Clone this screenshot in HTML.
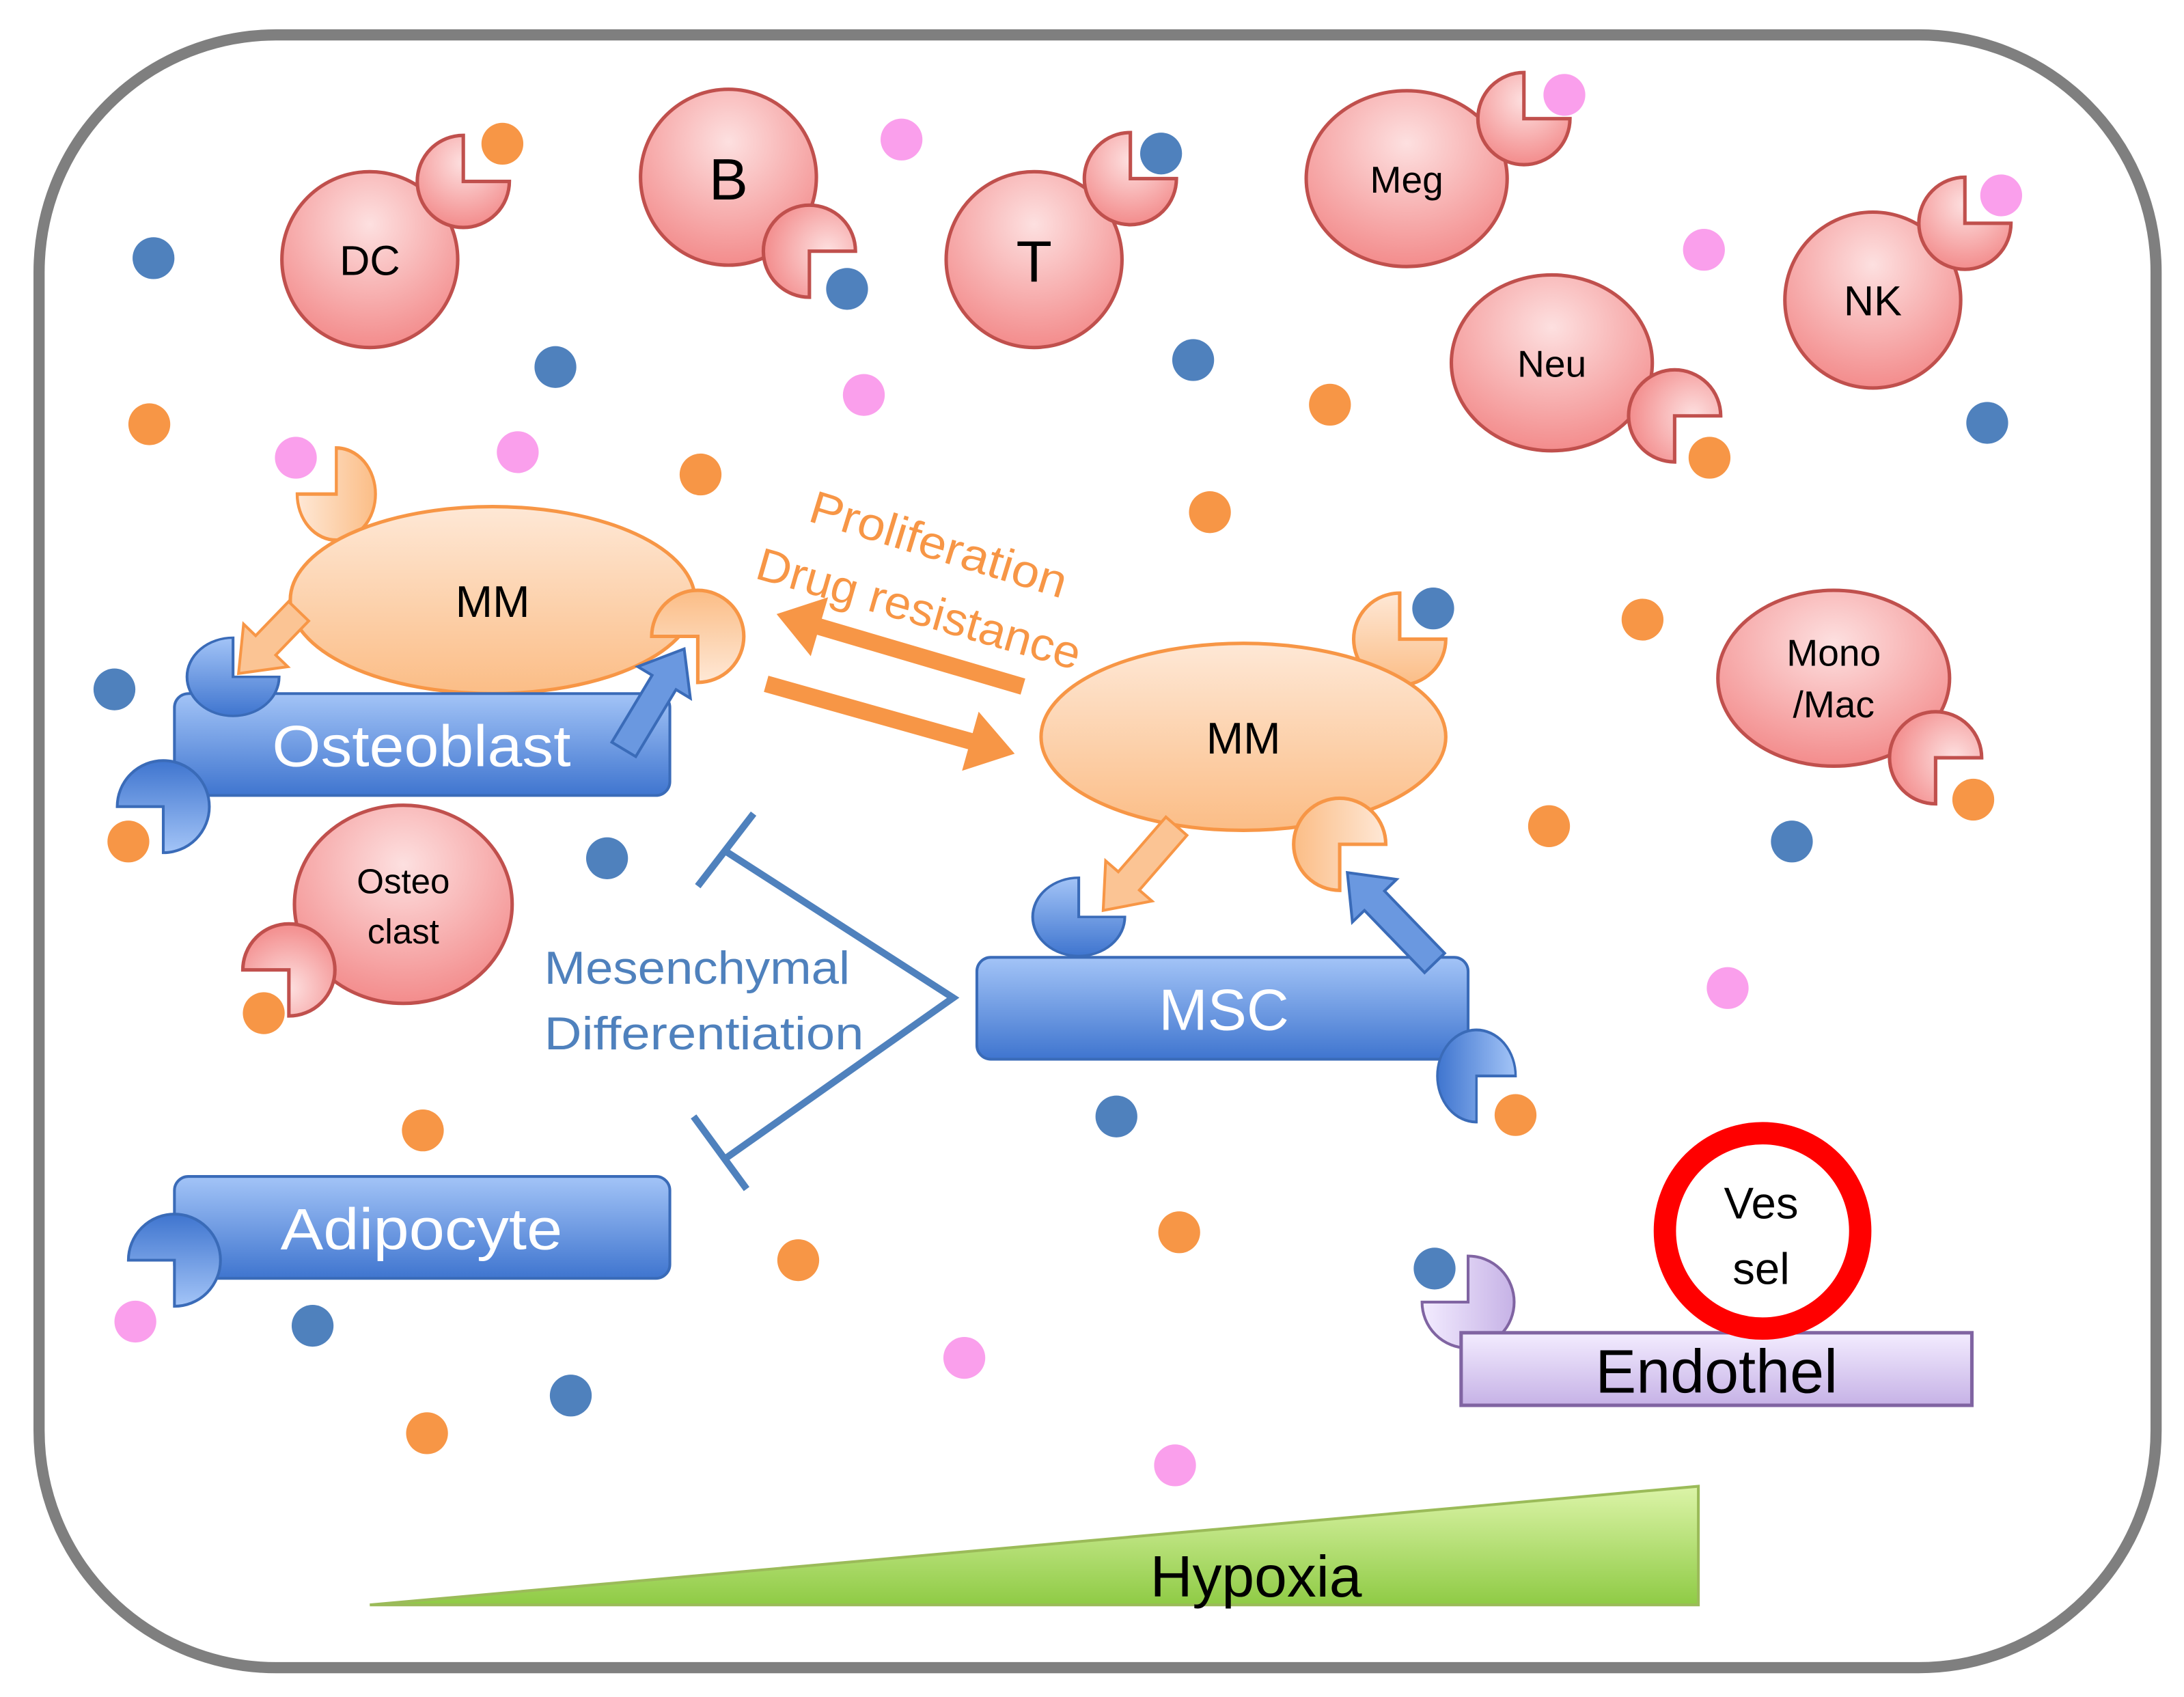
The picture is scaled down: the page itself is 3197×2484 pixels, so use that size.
<!DOCTYPE html>
<html><head><meta charset="utf-8"><style>
html,body{margin:0;padding:0;background:#fff}
svg{display:block}
text{font-family:"Liberation Sans","DejaVu Sans",sans-serif}
</style></head><body>
<svg width="3197" height="2484" viewBox="0 0 1565 1216" preserveAspectRatio="none" xmlns="http://www.w3.org/2000/svg">
<defs>
<radialGradient id="pk" cx="50%" cy="30%" r="70%"><stop offset="0" stop-color="#fde0e0"/><stop offset="1" stop-color="#f38c8c"/></radialGradient>
<linearGradient id="or" x1="0" y1="0" x2="0" y2="1"><stop offset="0" stop-color="#fee8d6"/><stop offset="1" stop-color="#fbbd86"/></linearGradient>
<linearGradient id="bl" x1="0" y1="0" x2="0" y2="1"><stop offset="0" stop-color="#a3c4f7"/><stop offset="1" stop-color="#3f75cf"/></linearGradient>
<linearGradient id="pu" x1="0" y1="0" x2="0" y2="1"><stop offset="0" stop-color="#f3ecff"/><stop offset="1" stop-color="#c6b2e6"/></linearGradient>
<linearGradient id="gr" x1="0" y1="0" x2="0" y2="1"><stop offset="0" stop-color="#dcf4a8"/><stop offset="1" stop-color="#8fcb45"/></linearGradient>
<path id="pac" d="M0,0 L33,0 A33 33 0 1 1 0,-33 Z"/>
<polygon id="barr" points="0,-11 -1,-11 -1,11 0,11"/>
</defs>
<rect x="28" y="25" width="1517" height="1170" rx="170" fill="#fff" stroke="#7f7f7f" stroke-width="8"/>

<!-- pink cells -->
<g stroke="#c0504d" stroke-width="2.5">
<circle cx="265" cy="186" r="63" fill="url(#pk)"/>
<circle cx="522" cy="127" r="63" fill="url(#pk)"/>
<circle cx="741" cy="186" r="63" fill="url(#pk)"/>
<ellipse cx="1008" cy="128" rx="72" ry="63" fill="url(#pk)"/>
<ellipse cx="1112" cy="260" rx="72" ry="63" fill="url(#pk)"/>
<circle cx="1342" cy="215" r="63" fill="url(#pk)"/>
<ellipse cx="1314" cy="486" rx="83" ry="63" fill="url(#pk)"/>
<ellipse cx="289" cy="648" rx="78" ry="71" fill="url(#pk)"/>
<use href="#pac" transform="translate(332,130)" fill="url(#pk)"/>
<use href="#pac" transform="translate(580,180) rotate(90)" fill="url(#pk)"/>
<use href="#pac" transform="translate(810,128)" fill="url(#pk)"/>
<use href="#pac" transform="translate(1092,85)" fill="url(#pk)"/>
<use href="#pac" transform="translate(1200,298) rotate(90)" fill="url(#pk)"/>
<use href="#pac" transform="translate(1408,160)" fill="url(#pk)"/>
<use href="#pac" transform="translate(1387,543) rotate(90)" fill="url(#pk)"/>
<use href="#pac" transform="translate(207,695) rotate(180)" fill="url(#pk)"/>
</g>
<g font-size="30" text-anchor="middle" fill="#000">
<text x="265" y="197">DC</text>
<text x="522" y="143" font-size="42">B</text>
<text x="741" y="202" font-size="42">T</text>
<text x="1008" y="138" font-size="27">Meg</text>
<text x="1112" y="270" font-size="27">Neu</text>
<text x="1342" y="226">NK</text>
<text x="1314" y="477" font-size="27">Mono</text>
<text x="1314" y="514" font-size="27">/Mac</text>
<text x="289" y="640" font-size="25">Osteo</text>
<text x="289" y="676" font-size="25">clast</text>
</g>

<!-- MM cells -->
<g stroke="#f79646" stroke-width="2.5" fill="url(#or)">
<use href="#pac" transform="translate(241,354) rotate(-90) scale(1,0.85)"/>
<ellipse cx="353" cy="430" rx="145" ry="67"/>
<use href="#pac" transform="translate(500,456) rotate(180)"/>
<use href="#pac" transform="translate(1003,458)"/>
<ellipse cx="891" cy="528" rx="145" ry="67"/>
<use href="#pac" transform="translate(960,605) rotate(90)"/>
</g>
<text x="353" y="442" font-size="32" text-anchor="middle">MM</text>
<text x="891" y="540" font-size="32" text-anchor="middle">MM</text>

<!-- blue rects -->
<g stroke="#3a6bb8" stroke-width="2" fill="url(#bl)">
<rect x="125" y="497" width="355" height="73" rx="10"/>
<rect x="700" y="686" width="352" height="73" rx="10"/>
<rect x="125" y="843" width="355" height="73" rx="10"/>
<use href="#pac" transform="translate(167,485) scale(1,0.85)"/>
<use href="#pac" transform="translate(117,578) rotate(180)"/>
<use href="#pac" transform="translate(773,657) scale(1,0.85)"/>
<use href="#pac" transform="translate(1058,771) rotate(90) scale(1,0.85)"/>
<use href="#pac" transform="translate(125,903) rotate(180)"/>
</g>
<g fill="#fff" font-size="42" text-anchor="middle">
<text x="302" y="549" textLength="214" lengthAdjust="spacingAndGlyphs">Osteoblast</text>
<text x="877" y="738">MSC</text>
<text x="302" y="895" textLength="202" lengthAdjust="spacingAndGlyphs">Adipocyte</text>
</g>

<!-- block arrows -->
<g fill="#fbc494" stroke="#f79646" stroke-width="2">
<polygon transform="translate(214,438) rotate(134)" points="0,-10 34,-10 34,-22 62,0 34,22 34,10 0,10"/>
<polygon transform="translate(843,592) rotate(131)" points="0,-10 52,-10 52,-22 80,0 52,22 52,10 0,10"/>
</g>
<g fill="#6a98e0" stroke="#3a6bb8" stroke-width="2">
<polygon transform="translate(447,537) rotate(-59)" points="0,-10 56,-10 56,-22 84,0 56,22 56,10 0,10"/>
<polygon transform="translate(1028,690) rotate(-134)" points="0,-10 62,-10 62,-22 90,0 62,22 62,10 0,10"/>
</g>
<g fill="#f79646">
<polygon transform="translate(733,492) rotate(196.4)" points="0,-6 152,-6 152,-22 184,0 152,22 152,6 0,6"/>
<polygon transform="translate(549,490) rotate(15.7)" points="0,-6 152,-6 152,-22 185,0 152,22 152,6 0,6"/>
</g>
<g fill="#f79646" font-size="33">
<text x="578" y="373" transform="rotate(17 578 373)" textLength="191" lengthAdjust="spacingAndGlyphs">Proliferation</text>
<text x="540" y="414" transform="rotate(16 540 414)" textLength="240" lengthAdjust="spacingAndGlyphs">Drug resistance</text>
</g>

<!-- inhibitor -->
<g stroke="#4f81bd" stroke-width="5" fill="none">
<polyline points="520,610 683,715 520,830"/>
<line x1="500" y1="635" x2="540" y2="583"/>
<line x1="497" y1="800" x2="535" y2="852"/>
</g>
<text x="390" y="705" font-size="33" fill="#4f81bd" textLength="219" lengthAdjust="spacingAndGlyphs">Mesenchymal</text>
<text x="390" y="752" font-size="33" fill="#4f81bd" textLength="229" lengthAdjust="spacingAndGlyphs">Differentiation</text>

<!-- endothel -->
<use href="#pac" transform="translate(1052,933) rotate(-90)" fill="url(#pu)" stroke="#8064a2" stroke-width="2"/>
<rect x="1047" y="955" width="366" height="52" fill="url(#pu)" stroke="#8064a2" stroke-width="2.5"/>
<text x="1230" y="998" font-size="44" text-anchor="middle">Endothel</text>
<circle cx="1263" cy="882" r="70" fill="#fff" stroke="#f00" stroke-width="16"/>
<text x="1262" y="873" font-size="32" text-anchor="middle">Ves</text>
<text x="1262" y="920" font-size="32" text-anchor="middle">sel</text>

<!-- hypoxia -->
<polygon points="265,1150 1217,1065 1217,1150" fill="url(#gr)" stroke="#9bbb59" stroke-width="2"/>
<text x="900" y="1144" font-size="42" text-anchor="middle">Hypoxia</text>

<!-- dots -->
<g fill="#4f81bd">
<circle cx="110" cy="185" r="15"/><circle cx="398" cy="263" r="15"/><circle cx="855" cy="258" r="15"/><circle cx="1424" cy="303" r="15"/><circle cx="82" cy="494" r="15"/><circle cx="435" cy="615" r="15"/><circle cx="1284" cy="603" r="15"/><circle cx="800" cy="800" r="15"/><circle cx="224" cy="950" r="15"/><circle cx="409" cy="1000" r="15"/><circle cx="1028" cy="909" r="15"/><circle cx="607" cy="207" r="15"/><circle cx="832" cy="110" r="15"/><circle cx="1027" cy="436" r="15"/>
</g>
<g fill="#f79646">
<circle cx="360" cy="103" r="15"/><circle cx="107" cy="304" r="15"/><circle cx="502" cy="340" r="15"/><circle cx="867" cy="367" r="15"/><circle cx="953" cy="290" r="15"/><circle cx="1225" cy="328" r="15"/><circle cx="1177" cy="444" r="15"/><circle cx="1110" cy="592" r="15"/><circle cx="1414" cy="573" r="15"/><circle cx="92" cy="603" r="15"/><circle cx="189" cy="726" r="15"/><circle cx="303" cy="810" r="15"/><circle cx="572" cy="903" r="15"/><circle cx="845" cy="883" r="15"/><circle cx="306" cy="1027" r="15"/><circle cx="1086" cy="799" r="15"/>
</g>
<g fill="#fa9fec">
<circle cx="646" cy="100" r="15"/><circle cx="1121" cy="68" r="15"/><circle cx="1221" cy="179" r="15"/><circle cx="1434" cy="140" r="15"/><circle cx="619" cy="283" r="15"/><circle cx="212" cy="328" r="15"/><circle cx="371" cy="324" r="15"/><circle cx="1238" cy="708" r="15"/><circle cx="97" cy="947" r="15"/><circle cx="691" cy="973" r="15"/><circle cx="842" cy="1050" r="15"/>
</g>
</svg>
</body></html>
